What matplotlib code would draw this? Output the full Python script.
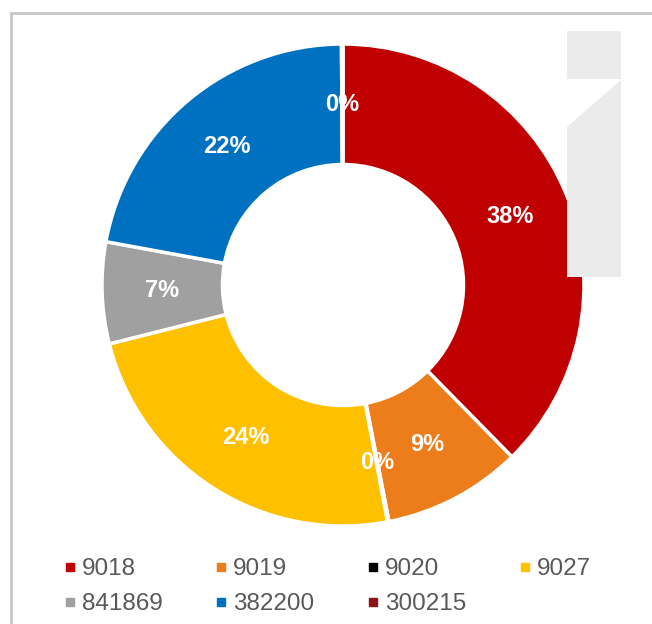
import matplotlib
matplotlib.use("Agg")
import matplotlib.pyplot as plt
from matplotlib.patches import Polygon
from matplotlib.lines import Line2D

plt.rcParams['font.family'] = ['Liberation Sans', 'DejaVu Sans']

# data
labels = ['9018', '9019', '9020', '9027', '841869', '382200', '300215']
shares = [37.6, 9.3, 0.1, 24.0, 6.8, 22.0, 0.1]
colors = ['#C00000', '#ED7D1A', '#000000', '#FFC000', '#A0A0A0', '#0070C0', '#8B1414']

W, H = 652, 624
fig = plt.figure(figsize=(W / 100, H / 100), dpi=100)

def fx(x):
    return x / W

def fy(y):
    return 1 - y / H

# frame lines
fig.add_artist(Line2D([fx(11), 1], [fy(13), fy(13)], color='#C8C8C8', lw=2))
fig.add_artist(Line2D([fx(11), fx(11)], [fy(13), 0], color='#C8C8C8', lw=2))

# watermark shape
wm1 = Polygon([(fx(567), fy(31)), (fx(621), fy(31)), (fx(621), fy(79)), (fx(567), fy(79))],
              closed=True, facecolor='#EBEBEB', edgecolor='none', transform=fig.transFigure)
wm2 = Polygon([(fx(567), fy(127)), (fx(621), fy(80)), (fx(621), fy(277)), (fx(567), fy(277))],
              closed=True, facecolor='#EBEBEB', edgecolor='none', transform=fig.transFigure)
fig.add_artist(wm1)
fig.add_artist(wm2)

# donut
cx, cy, r = 343, 285, 241
ax = fig.add_axes([fx(cx - r), fy(cy + r), 2 * r / W, 2 * r / H])
ax.patch.set_alpha(0)
wedges, texts, autotexts = ax.pie(
    shares, colors=colors, startangle=90, counterclock=False, radius=1,
    autopct='%.0f%%', pctdistance=0.75,
    wedgeprops=dict(width=0.5, edgecolor='white', linewidth=2.5),
    textprops=dict(color='white', fontsize=17, fontweight='bold'))
ax.set_xlim(-1, 1)
ax.set_ylim(-1, 1)
ax.set_aspect('equal')

# legend, row by row (matplotlib fills columns first)
order = [0, 4, 1, 5, 2, 6, 3]
handles = [Line2D([], [], marker='s', linestyle='none', markersize=6,
                  markerfacecolor=colors[i], markeredgecolor=colors[i]) for i in order]
fig.legend(handles, [labels[i] for i in order], loc='upper left',
           bbox_to_anchor=(fx(66), fy(558)),
           ncol=4, frameon=False, fontsize=17.5, labelcolor='#595959',
           handlelength=0.35, handletextpad=0.3, columnspacing=2.25,
           borderpad=0, borderaxespad=0, labelspacing=0.55)

fig.savefig('out.png', dpi=100)
